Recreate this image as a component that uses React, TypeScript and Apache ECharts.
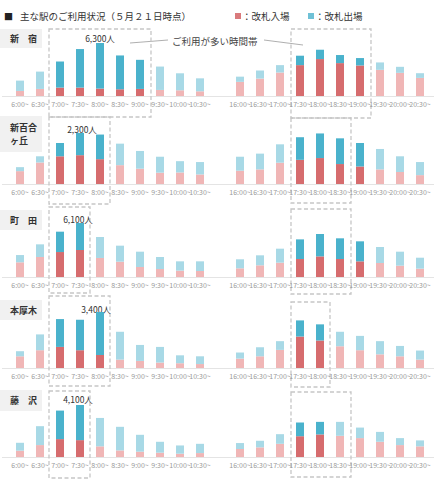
import React, { useEffect, useRef } from "react";
import * as echarts from "echarts";

const amSlots = ["6:00~", "6:30~", "7:00~", "7:30~", "8:00~", "8:30~", "9:00~", "9:30~", "10:00~", "10:30~"];
const pmSlots = ["16:00~", "16:30~", "17:00~", "17:30~", "18:00~", "18:30~", "19:00~", "19:30~", "20:00~", "20:30~"];

const stationNames = ["新　宿", "新百合\nヶ丘", "町　田", "本厚木", "藤　沢"];
const peakValues = [6300, 2300, 6100, 3400, 4100];

// 改札入場 (entries) / 改札出場 (exits)
const shinjukuAmIn = [600, 840, 1000, 1000, 880, 800, 840, 720, 680, 560];
const shinjukuAmOut = [1230, 2060, 3100, 4580, 5420, 4020, 3460, 2780, 2020, 1540];
const shinjukuPmIn = [1680, 2070, 2790, 3670, 4390, 3910, 3630, 3110, 2750, 2150];
const shinjukuPmOut = [620, 960, 880, 1120, 1110, 960, 880, 880, 720, 560];

const shinyuriAmIn = [580, 970, 1250, 1300, 1120, 850, 690, 510, 520, 430];
const shinyuriAmOut = [180, 280, 600, 1000, 1110, 970, 800, 720, 510, 560];
const shinyuriPmIn = [600, 660, 960, 1090, 1170, 900, 790, 660, 540, 400];
const shinyuriPmOut = [630, 710, 830, 1020, 1110, 1160, 1060, 920, 710, 590];

const machidaAmIn = [1660, 2260, 2820, 3050, 2150, 1730, 1130, 900, 720, 680];
const machidaAmOut = [820, 1430, 2300, 3050, 2370, 1810, 1730, 1360, 1050, 1090];
const machidaPmIn = [980, 1320, 1620, 2030, 2330, 2030, 1770, 1580, 1280, 940];
const machidaPmOut = [1020, 1130, 1580, 2220, 2530, 2340, 2260, 1810, 1580, 1240];

const honatsugiAmIn = [710, 1080, 1280, 1080, 790, 510, 430, 330, 290, 240];
const honatsugiAmOut = [310, 960, 1690, 1850, 2610, 1690, 970, 950, 480, 470];
const honatsugiPmIn = [570, 710, 1100, 1910, 1670, 1320, 1080, 830, 710, 510];
const honatsugiPmOut = [370, 550, 530, 980, 980, 880, 870, 800, 630, 550];

const fujisawaAmIn = [500, 940, 1410, 1330, 840, 520, 420, 340, 260, 310];
const fujisawaAmOut = [620, 1490, 2250, 2770, 2240, 1860, 1330, 860, 650, 730];
const fujisawaPmIn = [630, 760, 1040, 1640, 1780, 1670, 1490, 1200, 940, 840];
const fujisawaPmOut = [470, 520, 760, 1080, 990, 1100, 830, 780, 550, 470];

// indices of busy (highlighted) time slots
const busyAm = [[2, 3, 4, 5, 6], [2, 3, 4], [2, 3], [2, 3, 4], [2, 3]];
const busyPm = [[3, 4, 5, 6], [3, 4, 5, 6], [3, 4, 5, 6], [3, 4], [3, 4]];

const amIn = [shinjukuAmIn, shinyuriAmIn, machidaAmIn, honatsugiAmIn, fujisawaAmIn];
const amOut = [shinjukuAmOut, shinyuriAmOut, machidaAmOut, honatsugiAmOut, fujisawaAmOut];
const pmIn = [shinjukuPmIn, shinyuriPmIn, machidaPmIn, honatsugiPmIn, fujisawaPmIn];
const pmOut = [shinjukuPmOut, shinyuriPmOut, machidaPmOut, honatsugiPmOut, fujisawaPmOut];

const FONT = "'Noto Sans CJK JP', 'Noto Sans', sans-serif";
const RED_DARK = "#d66c6e";
const RED_LIGHT = "#f0b6b6";
const BLUE_DARK = "#4ab2cc";
const BLUE_LIGHT = "#a8d9e6";

// layout
const baselines = [96, 184, 277, 368, 457];
const plotHeights = [53, 51, 54, 56, 52];
const labelBoxes = [
  { y: 29, h: 19 },
  { y: 116, h: 36 },
  { y: 210, h: 20 },
  { y: 300, h: 20 },
  { y: 390, h: 21 },
];
const peakLabelPos = [
  { x: 100, y: 38 },
  { x: 82, y: 129 },
  { x: 78, y: 219 },
  { x: 96, y: 309 },
  { x: 78, y: 399 },
];
const amBoxes = [
  { x: 49, y: 29, w: 102, h: 88 },
  { x: 49, y: 117, w: 61, h: 87 },
  { x: 49, y: 207, w: 41, h: 86 },
  { x: 49, y: 296, w: 61, h: 90 },
  { x: 49, y: 391, w: 41, h: 87 },
];
const pmBoxes = [
  { x: 291, y: 29, w: 80, h: 89 },
  { x: 291, y: 118, w: 60, h: 85 },
  { x: 291, y: 209, w: 60, h: 85 },
  { x: 291, y: 302, w: 39, h: 85 },
  { x: 291, y: 392, w: 60, h: 85 },
];

function fmt(n: number) {
  return n.toLocaleString("en-US") + "人";
}

export default function App() {
  const ref = useRef<HTMLDivElement>(null);
  useEffect(() => {
    const chart = echarts.init(ref.current!, null, { renderer: "svg" });
    const grids: any[] = [];
    const xAxes: any[] = [];
    const yAxes: any[] = [];
    const series: any[] = [];
    const graphics: any[] = [];

    stationNames.forEach((_, s) => {
      // baseline rule across the full width, drawn behind the bars
      graphics.push({
        type: "line",
        z: -1,
        shape: { x1: 2, y1: baselines[s] + 0.5, x2: 434, y2: baselines[s] + 0.5 },
        style: { stroke: "#e4e4e4", lineWidth: 1 },
      });
      [0, 1].forEach((p) => {
        const gi = s * 2 + p;
        grids.push({
          left: p === 0 ? 10 : 230,
          width: 200,
          top: baselines[s] - plotHeights[s],
          height: plotHeights[s],
        });
        xAxes.push({
          type: "category",
          gridIndex: gi,
          data: p === 0 ? amSlots : pmSlots,
          axisTick: { show: false },
          axisLine: { show: false },
          axisLabel: {
            interval: 0,
            fontSize: 7,
            color: "#9a9a9a",
            margin: 4,
            fontFamily: FONT,
          },
        });
        yAxes.push({ type: "value", gridIndex: gi, min: 0, max: peakValues[s], show: false });
        const ins = p === 0 ? amIn[s] : pmIn[s];
        const outs = p === 0 ? amOut[s] : pmOut[s];
        const busy = p === 0 ? busyAm[s] : busyPm[s];
        series.push({
          type: "bar",
          name: "改札入場",
          xAxisIndex: gi,
          yAxisIndex: gi,
          stack: "st" + gi,
          barWidth: 8,
          data: ins.map((v, i) => ({
            value: v,
            itemStyle: { color: busy.includes(i) ? RED_DARK : RED_LIGHT },
          })),
        });
        series.push({
          type: "bar",
          name: "改札出場",
          xAxisIndex: gi,
          yAxisIndex: gi,
          stack: "st" + gi,
          barWidth: 8,
          data: outs.map((v, i) => ({
            value: v,
            itemStyle: { color: busy.includes(i) ? BLUE_DARK : BLUE_LIGHT },
          })),
        });
      });
    });

    // header
    graphics.push({
      type: "text",
      x: 4,
      y: 16,
      style: { text: "■", fontSize: 9, fill: "#222", fontFamily: FONT, verticalAlign: "middle" },
    });
    graphics.push({
      type: "text",
      x: 20,
      y: 16,
      style: { text: "主な駅のご利用状況（５月２１日時点）", fontSize: 9.5, fill: "#333", fontFamily: FONT, verticalAlign: "middle" },
    });
    // legend
    graphics.push({ type: "rect", shape: { x: 235, y: 13, width: 6, height: 6 }, style: { fill: "#d97a7c" } });
    graphics.push({
      type: "text",
      x: 242,
      y: 16,
      style: { text: "：改札入場", fontSize: 9.5, fill: "#333", fontFamily: FONT, verticalAlign: "middle" },
    });
    graphics.push({ type: "rect", shape: { x: 308, y: 13, width: 6, height: 6 }, style: { fill: "#6fc1d6" } });
    graphics.push({
      type: "text",
      x: 315,
      y: 16,
      style: { text: "：改札出場", fontSize: 9.5, fill: "#333", fontFamily: FONT, verticalAlign: "middle" },
    });
    // annotation
    graphics.push({
      type: "text",
      x: 172,
      y: 41,
      style: { text: "ご利用が多い時間帯", fontSize: 9.5, fill: "#444", fontFamily: FONT, verticalAlign: "middle" },
    });
    graphics.push({ type: "line", shape: { x1: 130, y1: 43, x2: 168, y2: 40 }, style: { stroke: "#9a9a9a", lineWidth: 0.8 } });
    graphics.push({ type: "line", shape: { x1: 264, y1: 40, x2: 303, y2: 45 }, style: { stroke: "#9a9a9a", lineWidth: 0.8 } });

    stationNames.forEach((name, s) => {
      const lb = labelBoxes[s];
      graphics.push({
        type: "rect",
        shape: { x: 0, y: lb.y, width: 42, height: lb.h },
        style: { fill: "#f1f1f1" },
      });
      graphics.push({
        type: "text",
        x: 10,
        y: lb.y + lb.h / 2,
        style: {
          text: name,
          fontSize: 9,
          fontWeight: "bold",
          fill: "#333",
          fontFamily: FONT,
          verticalAlign: "middle",
          lineHeight: 13,
        },
      });
      [amBoxes[s], pmBoxes[s]].forEach((b) => {
        graphics.push({
          type: "rect",
          shape: { x: b.x, y: b.y, width: b.w, height: b.h },
          style: { fill: "none", stroke: "#c6c6c6", lineWidth: 1.3, lineDash: [4, 2.5] },
        });
      });
      const pl = peakLabelPos[s];
      graphics.push({
        type: "text",
        x: pl.x,
        y: pl.y,
        style: {
          text: fmt(peakValues[s]),
          fontSize: 8.5,
          fill: "#333",
          fontFamily: FONT,
          align: "center",
          verticalAlign: "middle",
        },
      });
    });

    chart.setOption({
      animation: false,
      backgroundColor: "#ffffff",
      grid: grids,
      xAxis: xAxes,
      yAxis: yAxes,
      series,
      graphic: graphics,
    });
    return () => chart.dispose();
  }, []);
  return (
    <div
      ref={ref}
      style={{ position: "absolute", left: 0, top: 0, width: 439, height: 480 }}
    />
  );
}
